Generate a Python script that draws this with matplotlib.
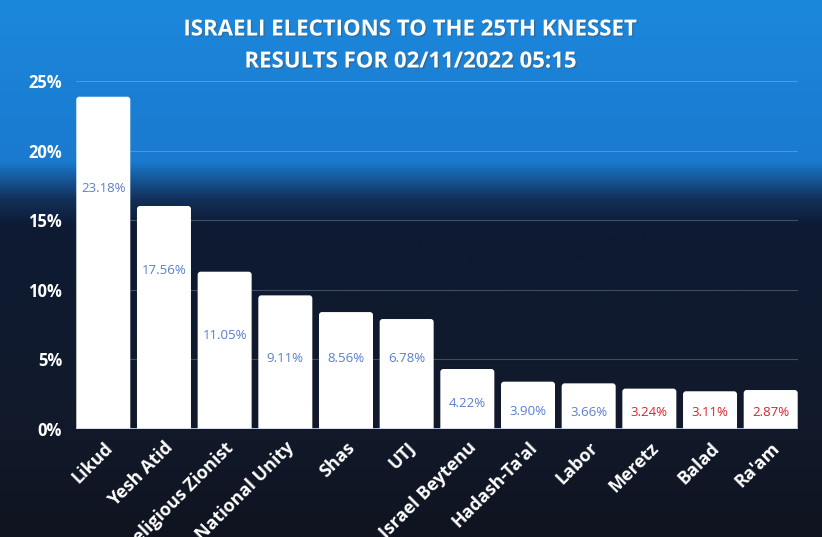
"""Israeli elections to the 25th Knesset - results bar chart."""

import numpy as np
import matplotlib
matplotlib.use("Agg")
from matplotlib import pyplot as plt
from matplotlib import patheffects as pe
from matplotlib.colors import LinearSegmentedColormap
from matplotlib.patches import FancyBboxPatch

# 党派与显示的百分比标签
parties = ["Likud", "Yesh Atid", "Religious Zionist", "National Unity", "Shas",
           "UTJ", "Israel Beytenu", "Hadash-Ta'al", "Labor", "Meretz",
           "Balad", "Ra'am"]
labels = ["23.18%", "17.56%", "11.05%", "9.11%", "8.56%", "6.78%",
          "4.22%", "3.90%", "3.66%", "3.24%", "3.11%", "2.87%"]
# 柱子实际画出的高度（从图上读出，和标签并不完全一致）
bar_values = [23.87, 16.02, 11.30, 9.60, 8.40, 7.90,
              4.31, 3.40, 3.28, 2.90, 2.71, 2.80]
# 标签所在的高度（%）
label_y = [17.3, 11.4, 6.72, 5.1, 5.1, 5.1, 1.8, 1.26, 1.2, 1.2, 1.15, 1.2]
threshold = 3.25
yticks = [0, 5, 10, 15, 20, 25]

fig = plt.figure(figsize=(8.22, 5.37), dpi=100)

# 背景：用渐变近似原图的照片（上方亮蓝，下方深蓝）
bg = fig.add_axes([0, 0, 1, 1], zorder=0)
bg_cmap = LinearSegmentedColormap.from_list(
    "bg", [(0.0, "#1c88dc"), (0.30, "#1a7acf"), (0.37, "#12305a"),
           (0.42, "#0d1a33"), (0.75, "#121a2c"), (1.0, "#0f1420")])
grad = np.linspace(0, 1, 256).reshape(-1, 1)
bg.imshow(grad, aspect="auto", cmap=bg_cmap, extent=[0, 1, 0, 1])
bg.set_axis_off()

ax = fig.add_axes([76 / 822, 1 - 429 / 537, 722 / 822, 348 / 537], zorder=1)
ax.patch.set_alpha(0)

x = np.arange(len(parties))
bars = ax.bar(x, bar_values, width=0.89, color="white", zorder=2)

# 把直角柱子换成顶部圆角（底部伸到 0 以下，被坐标轴裁掉）
r_x = 3 / 60.6
r_y = 3 / 13.92
for b in bars:
    b.set_visible(False)
    ax.add_patch(FancyBboxPatch(
        (b.get_x(), -1), b.get_width(), b.get_height() + 1,
        boxstyle=f"round,pad=0,rounding_size={r_x}",
        mutation_aspect=r_y / r_x, facecolor="white", edgecolor="none",
        zorder=2))

for xi, lab, ly in zip(x, labels, label_y):
    val = float(lab.rstrip("%"))
    col = "#d9232d" if val < threshold else "#5a7fcb"
    ax.text(xi, ly, lab, ha="center", va="center", fontsize=9.5,
            color=col, family=["Open Sans", "DejaVu Sans"], zorder=3)

ax.set_xlim(-0.45, len(parties) - 0.55)
ax.set_ylim(0, 25)
ax.set_yticks(yticks)
ax.set_yticklabels([f"{t}%" for t in yticks])
ax.yaxis.grid(True, color="white", alpha=0.22, linewidth=0.8)
ax.set_axisbelow(True)
ax.axhline(0, color="#ccd6eb", linewidth=1.2, zorder=4)

for s in ax.spines.values():
    s.set_visible(False)
ax.tick_params(axis="both", length=0)
ax.tick_params(axis="y", pad=10)

for t in ax.get_yticklabels():
    t.set_fontfamily(["Open Sans", "DejaVu Sans"])
    t.set_fontweight("bold")
    t.set_fontsize(12)
    t.set_color("white")

ax.set_xticks(x)
ax.set_xticklabels(parties, rotation=45, ha="right", rotation_mode="anchor",
                   fontsize=13, fontweight="bold", color="white",
                   family=["Open Sans", "DejaVu Sans"])
ax.tick_params(axis="x", pad=7)

title_font = ["Open Sans", "DejaVu Sans"]
shadow = [pe.withSimplePatchShadow(offset=(1, -1), alpha=0.4)]
fig.text(0.5, 1 - 30 / 537, "ISRAELI ELECTIONS TO THE 25TH KNESSET",
         ha="center", va="center", fontsize=16, fontweight="bold",
         color="white", family=title_font, path_effects=shadow)
fig.text(0.5, 1 - 62 / 537, "RESULTS FOR 02/11/2022 05:15",
         ha="center", va="center", fontsize=16, fontweight="bold",
         color="white", family=title_font, path_effects=shadow)

fig.savefig("out.png", dpi=100)
